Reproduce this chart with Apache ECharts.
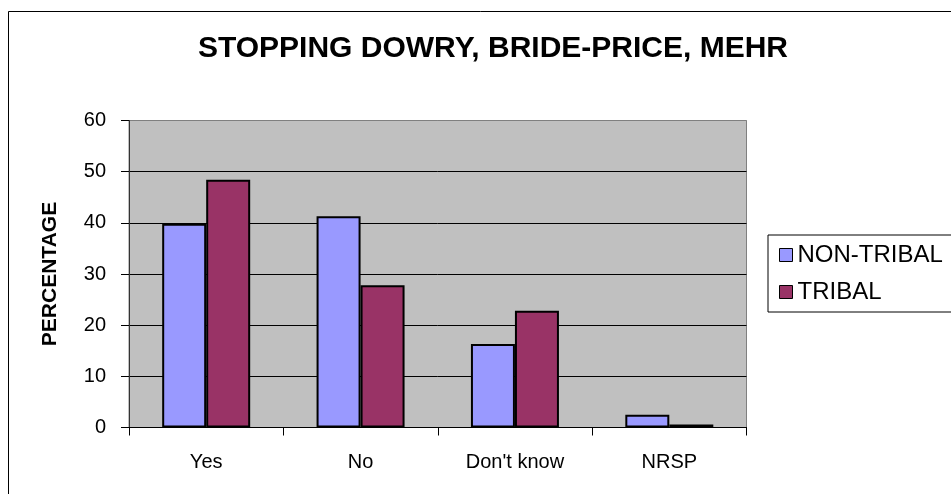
<!DOCTYPE html>
<html>
<head>
<meta charset="utf-8">
<title>Stopping dowry, bride-price, mehr</title>
<script src="https://cdn.jsdelivr.net/npm/echarts@6/dist/echarts.min.js"></script>
<style>
  html, body { margin: 0; padding: 0; background: #fff; }
  #chart { width: 951px; height: 494px; }
</style>
</head>
<body>
<div id="chart"></div>
<script>
// Survey answers, percentage of respondents
const categories = ['Yes', 'No', "Don't know", 'NRSP'];
const nonTribal = [39.8, 41.3, 16.3, 2.5];
const tribal = [48.4, 27.8, 22.8, 0.6];
const seriesNames = ['NON-TRIBAL', 'TRIBAL'];
const yTicks = { min: 0, max: 60, interval: 10 };

const FONT = '"Liberation Sans", Arial, sans-serif';

const chart = echarts.init(document.getElementById('chart'), null, { renderer: 'canvas' });

chart.setOption({
  animation: false,
  backgroundColor: '#ffffff',
  textStyle: { fontFamily: FONT, color: '#000' },
  title: {
    text: 'STOPPING DOWRY, BRIDE-PRICE, MEHR',
    left: 488,
    top: 29,
    textAlign: 'center',
    textStyle: { fontFamily: FONT, fontSize: 30, fontWeight: 'bold', color: '#000' }
  },
  graphic: [
    {
      // chart-area frame
      type: 'rect',
      silent: true,
      z: -1,
      shape: { x: 8.5, y: 11.5, width: 1000, height: 600 },
      style: { fill: 'none', stroke: '#000', lineWidth: 1 }
    }
  ],
  legend: {
    data: seriesNames,
    orient: 'vertical',
    left: 768,
    top: 235,
    padding: [8, 30, 8, 11],
    itemGap: 13,
    itemWidth: 13,
    itemHeight: 13,
    icon: 'rect',
    borderColor: '#000',
    borderWidth: 1,
    backgroundColor: '#fff',
    textStyle: { fontFamily: FONT, fontSize: 24, color: '#000', lineHeight: 24 },
    itemStyle: { borderColor: '#000', borderWidth: 1 }
  },
  grid: {
    left: 129,
    top: 120.5,
    width: 617.5,
    height: 307,
    show: true,
    backgroundColor: '#c0c0c0',
    borderColor: '#808080',
    borderWidth: 1
  },
  xAxis: {
    type: 'category',
    data: categories,
    axisLine: { show: true, lineStyle: { color: '#000', width: 1 } },
    axisTick: { show: true, alignWithLabel: false, length: 8, lineStyle: { color: '#000' } },
    axisLabel: { fontFamily: FONT, fontSize: 20, color: '#000', margin: 25 },
    splitLine: { show: false }
  },
  yAxis: {
    type: 'value',
    min: yTicks.min,
    max: yTicks.max,
    interval: yTicks.interval,
    name: 'PERCENTAGE',
    nameLocation: 'middle',
    nameGap: 68,
    nameRotate: 90,
    nameTextStyle: { fontFamily: FONT, fontSize: 21, fontWeight: 'bold', color: '#000' },
    axisLine: { show: true, lineStyle: { color: '#333', width: 1 } },
    axisTick: { show: true, length: 8, lineStyle: { color: '#000' } },
    axisLabel: { fontFamily: FONT, fontSize: 20, color: '#000', margin: 23 },
    splitLine: {
      show: true,
      lineStyle: { color: ['#000', '#000', '#000', '#000', '#000', '#000', '#808080'], width: 1 }
    }
  },
  series: [
    {
      name: seriesNames[0],
      type: 'bar',
      data: nonTribal,
      barGap: '0%',
      barCategoryGap: '43%',
      itemStyle: { color: '#9999ff', borderColor: '#000', borderWidth: 2 }
    },
    {
      name: seriesNames[1],
      type: 'bar',
      data: tribal,
      itemStyle: { color: '#993366', borderColor: '#000', borderWidth: 2 }
    }
  ]
});
</script>
</body>
</html>
